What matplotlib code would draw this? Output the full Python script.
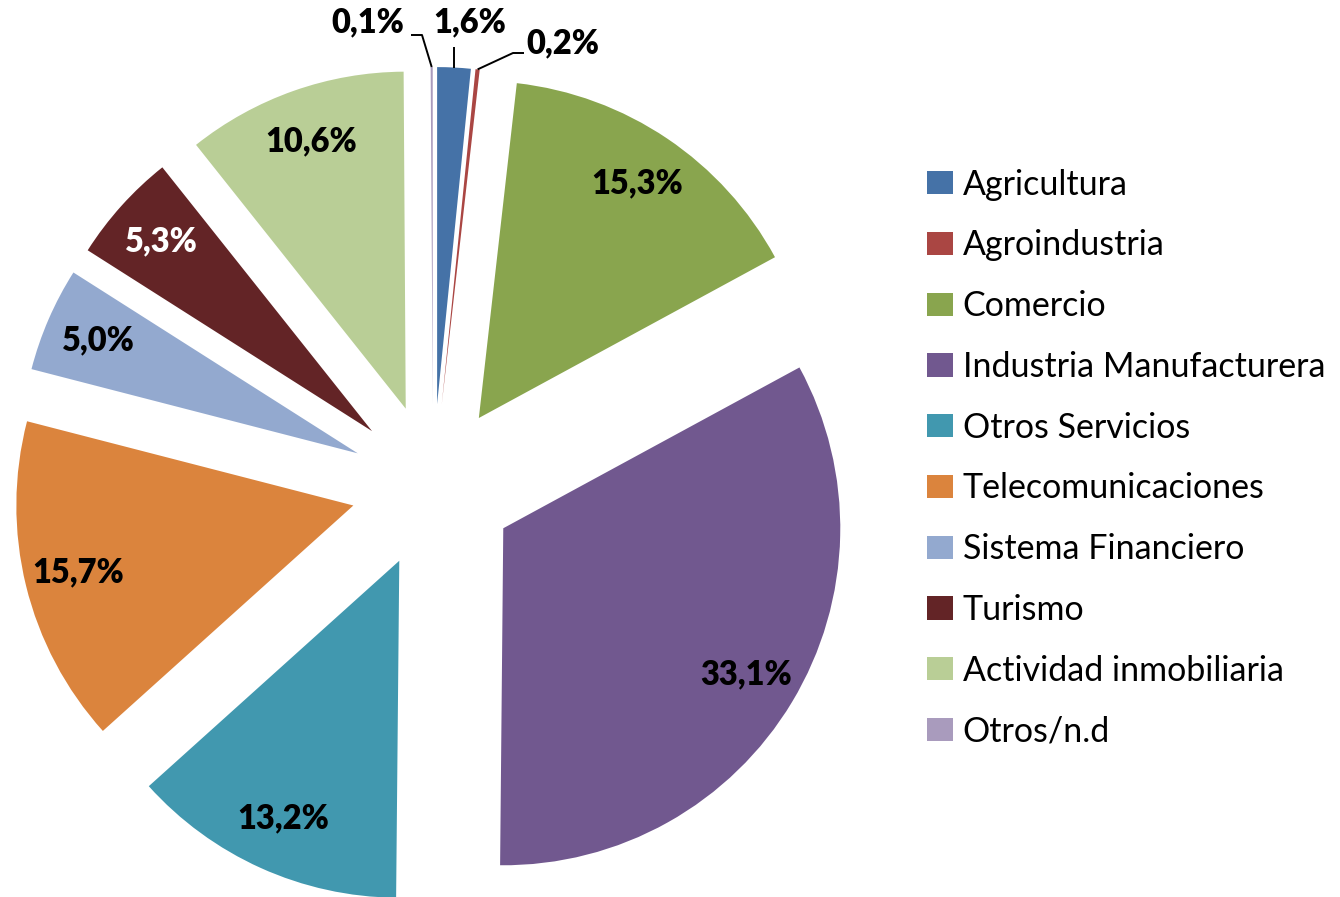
"""Pie chart: distribución por sector."""

import math

import matplotlib
matplotlib.use("Agg")
import matplotlib.pyplot as plt


# ---------------------------------------------------------------------
# Data
# ---------------------------------------------------------------------
sectors = [
    "Agricultura",
    "Agroindustria",
    "Comercio",
    "Industria Manufacturera",
    "Otros Servicios",
    "Telecomunicaciones",
    "Sistema Financiero",
    "Turismo",
    "Actividad inmobiliaria",
    "Otros/n.d",
]
shares = [1.6, 0.2, 15.3, 33.1, 13.2, 15.7, 5.0, 5.3, 10.6, 0.1]
colors = [
    "#4572A7",
    "#AA4643",
    "#89A54E",
    "#71588F",
    "#4198AF",
    "#DB843D",
    "#93A9CF",
    "#632426",
    "#B9CE96",
    "#A99BBD",
]
label_colors = ["black"] * 7 + ["white"] + ["black"] * 2
# tiny slices get labels outside with leader lines
outside = {0, 1, 9}

plt.rcParams["font.family"] = ["Lato", "DejaVu Sans"]

W, H = 1340, 897
fig = plt.figure(figsize=(W / 100, H / 100), dpi=100)
ax = fig.add_axes([0, 0, 1, 1])

radius = 337
center = (433, H - 486)
explode = [82] * len(shares)

wedges, _ = ax.pie(
    shares,
    colors=colors,
    radius=radius,
    center=center,
    explode=explode,
    startangle=90,
    counterclock=False,
    wedgeprops={"linewidth": 0},
    frame=True,
)
ax.set_xlim(0, W)
ax.set_ylim(0, H)
ax.set_aspect("equal")
ax.axis("off")


def fmt(v):
    return f"{v:.1f}%".replace(".", ",")


LABEL_FS = 23.5

for i, (w, v) in enumerate(zip(wedges, shares)):
    if i in outside:
        continue
    tm = math.radians((w.theta1 + w.theta2) / 2)
    cx, cy = w.center
    d = 0.84 * radius
    ax.text(
        cx + d * math.cos(tm),
        cy + d * math.sin(tm),
        fmt(v),
        ha="center",
        va="center",
        fontsize=LABEL_FS,
        fontweight="heavy",
        color=label_colors[i],
    )

# outside labels (text position, elbow points of the leader line)
callouts = {
    0: ((470, 22), [(453, 47)]),
    1: ((563, 43), [(524, 53), (513, 53)]),
    9: ((368, 22), [(411, 35), (422, 35)]),
}
for i, ((tx, ty), elbow) in callouts.items():
    w = wedges[i]
    tm = math.radians((w.theta1 + w.theta2) / 2)
    cx, cy = w.center
    ex = cx + radius * math.cos(tm)
    ey = cy + radius * math.sin(tm)
    ax.text(tx, H - ty, fmt(shares[i]), ha="center", va="center",
            fontsize=LABEL_FS, fontweight="heavy", color="black")
    if i == 0:
        xs = [ex, ex]
        ys = [ey, H - elbow[0][1]]
    else:
        xs = [p[0] for p in elbow] + [ex]
        ys = [H - p[1] for p in elbow] + [ey]
    ax.plot(xs, ys, color="black", linewidth=1.4, solid_capstyle="butt")

leg = ax.legend(
    wedges,
    sectors,
    loc="upper left",
    bbox_to_anchor=(913 / W, 1 - 155 / H),
    frameon=False,
    fontsize=24.5,
    handlelength=0.78,
    handleheight=0.68,
    handletextpad=0.28,
    labelspacing=0.845,
    borderaxespad=0,
)

fig.savefig("out.png", dpi=100, facecolor="white")
